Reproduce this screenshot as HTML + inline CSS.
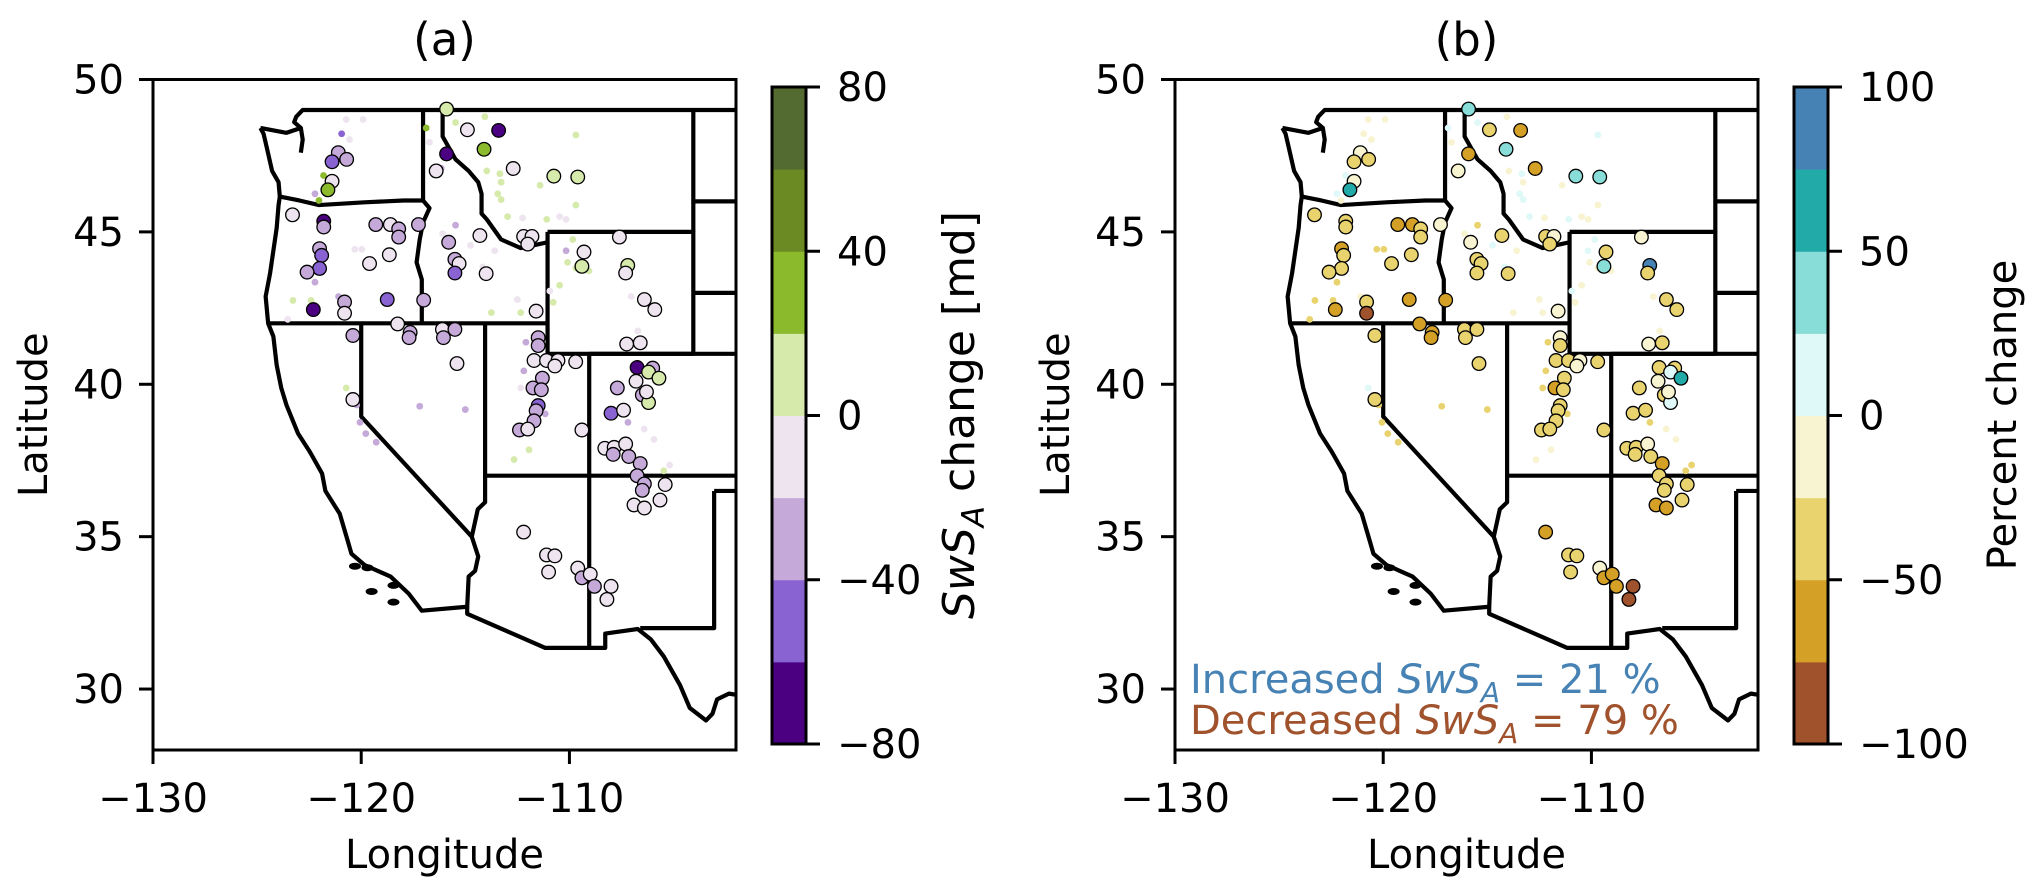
<!DOCTYPE html>
<html><head><meta charset="utf-8"><style>
html,body{margin:0;padding:0;background:#fff;}
svg{display:block;font-family:"DejaVu Sans","Liberation Sans",sans-serif;}
</style></head><body>
<svg id="fig" width="2044" height="894" viewBox="0 0 2044 894" xmlns="http://www.w3.org/2000/svg">
<defs>
<clipPath id="clipA"><rect x="153" y="79.5" width="583" height="670.5"/></clipPath>
<clipPath id="clipB"><rect x="1175" y="79.5" width="583" height="670.5"/></clipPath>
</defs>
</svg>
<script>
// ---------------- data ----------------
const bigLon = [-115.9,-114.9,-113.4,-114.1,-115.9,-116.4,-112.7,-110.75,-109.6,-121.1,-120.7,-121.4,-121.4,-121.6,-123.3,-121.8,-121.8,-119.3,-118.6,-118.2,-118.2,-117.25,-122.0,-121.9,-122.0,-122.6,-118.65,-119.6,-115.8,-115.5,-115.3,-115.5,-114.3,-114.0,-122.3,-120.8,-120.8,-118.75,-117.0,-118.25,-117.65,-117.7,-120.4,-116.1,-115.5,-116.05,-115.4,-120.4,-112.2,-111.8,-112.0,-111.6,-109.3,-109.4,-107.6,-107.2,-107.3,-106.4,-105.9,-111.5,-111.5,-111.7,-111.1,-110.55,-110.7,-109.7,-107.25,-106.6,-106.75,-106.0,-106.2,-105.7,-106.8,-106.5,-106.2,-106.3,-107.7,-108.0,-107.4,-111.3,-111.75,-111.35,-111.5,-111.6,-111.7,-112.4,-112.0,-109.4,-108.3,-107.85,-107.3,-107.9,-107.15,-106.6,-106.75,-106.4,-106.5,-105.4,-106.9,-106.4,-105.65,-112.2,-111.1,-110.7,-111.0,-109.6,-109.4,-109.0,-108.8,-108.0,-108.2];
const bigLat = [49.03,48.35,48.33,47.71,47.56,47.0,47.08,46.83,46.8,47.6,47.38,47.3,46.66,46.38,45.56,45.35,45.16,45.24,45.24,45.1,44.83,45.24,44.45,44.23,43.8,43.68,44.25,43.96,44.66,44.1,43.96,43.65,44.88,43.63,42.45,42.7,42.33,42.78,42.76,41.98,41.7,41.53,41.6,41.8,41.8,41.53,40.68,39.5,44.85,44.85,44.6,42.4,44.34,43.87,44.83,43.9,43.65,42.78,42.45,41.53,41.27,40.78,40.78,40.78,40.6,40.74,41.32,41.36,40.55,40.53,40.4,40.2,40.1,39.65,39.4,39.75,39.88,39.05,39.15,40.2,39.88,39.82,39.3,39.13,38.8,38.5,38.53,38.5,37.9,37.93,38.04,37.7,37.63,37.4,37.0,36.73,36.52,36.71,36.04,35.94,36.2,35.15,34.4,34.37,33.84,33.97,33.65,33.77,33.37,33.37,32.94];
const bigValA = [10,-10,-70,30,-70,-10,-10,10,10,-30,-30,-50,-10,30,-10,-70,-30,-30,-10,-30,-30,-30,-30,-50,-50,-30,-10,-10,-30,-30,-10,-50,-10,-10,-70,-30,-10,-50,-30,-10,-30,-30,-30,-10,-30,-30,-10,-10,-10,-10,-10,-10,-10,10,-10,10,-10,-10,-10,-30,-30,-10,-10,-10,-10,-10,-10,-10,-70,-30,10,10,-10,-30,10,-10,-30,-50,-10,-30,-30,-30,-50,-30,-30,-30,-10,-10,-10,-10,-10,-30,-30,-30,-30,-30,-30,-10,-10,-10,-10,-10,-10,-10,-10,-10,-30,-10,-30,-10,-10];
const bigValB = [30,-40,-70,30,-60,-10,-60,30,30,-10,-40,-40,-10,60,-40,-40,-40,-60,-60,-40,-40,-10,-60,-40,-40,-40,-40,-40,-10,-40,-40,-40,-40,-40,-60,-40,-85,-60,-60,-60,-60,-60,-40,-40,-40,-40,-40,-40,-40,-10,-40,-10,-40,30,-10,90,-40,-40,-40,-10,-40,-40,-40,-10,-10,-40,-10,-40,-40,-40,10,60,-10,-40,10,-10,-40,-40,-40,-40,-60,-40,-40,-40,-40,-40,-40,-40,-40,-40,-10,-40,-40,-60,-40,-40,-40,-40,-60,-60,-40,-60,-40,-40,-40,-10,-60,-60,-60,-85,-85];
const smallLon = [-120.72,-119.91,-120.94,-120.56,-121.81,-122.22,-122.03,-116.88,-116.72,-116.16,-115.47,-114.06,-113.97,-113.34,-113.28,-113.44,-113.28,-112.97,-112.25,-111.41,-111.09,-110.16,-109.84,-110.09,-109.69,-109.06,-110.47,-110.78,-110.94,-110.16,-109.69,-113.59,-114.16,-113.75,-112.34,-112.5,-119.97,-120.31,-122.22,-122.22,-121.09,-122.41,-123.28,-123.53,-120.72,-120.22,-120.06,-119.78,-119.28,-117.19,-115.0,-112.09,-112.19,-112.34,-111.94,-112.66,-111.16,-107.19,-106.41,-105.19,-105.47,-105.94,-106.72,-107.03,-109.69,-110.47,-115.47,-116.09,-114.75];
const smallLat = [48.69,48.69,48.22,48.03,46.85,46.25,46.03,48.41,47.94,47.09,48.59,48.78,47.0,46.91,46.63,46.25,46.06,45.5,45.46,46.53,45.41,45.41,44.75,44.0,43.81,43.72,43.25,42.69,43.06,44.38,48.18,44.38,43.85,42.35,42.35,42.78,44.43,44.43,43.81,43.35,42.88,42.75,42.75,42.13,39.88,39.32,38.75,38.38,38.1,39.28,39.17,41.38,40.44,39.88,37.85,37.53,39.03,38.75,38.53,37.35,37.16,38.19,41.75,42.88,45.88,45.5,45.22,44.94,44.56];
const smallValA = [-10,-10,-50,-10,30,-30,30,30,-10,-30,10,10,10,10,10,10,10,10,-10,10,10,-10,10,10,10,10,10,10,-10,-30,10,-10,-10,10,10,-10,-10,-10,-30,-30,-30,10,10,-10,10,-30,-30,-30,-30,-30,-30,-30,-30,-10,10,10,-30,-30,-10,-10,10,-10,-10,-10,10,-10,-30,-10,-10];
const smallValB = [-10,-10,-10,-10,10,10,-10,10,-10,10,10,-10,-10,10,-10,10,10,10,-10,-10,10,-10,10,-10,-10,-10,-10,-10,10,10,10,-10,10,-10,-10,-10,-40,-40,-40,-40,-10,-40,-40,-40,10,-40,-40,-40,-40,-40,-40,-40,-40,-40,-10,-10,-40,-40,-10,-40,-40,-10,-10,-10,-10,-10,-40,-10,10];
const cbTicksA = [-80,-40,0,40,80];
const cbTicksB = [-100,-50,0,50,100];
const colorsA = ['#4b0082','#8a63d2','#c5a9d8','#ede4ef','#d6eaab','#8cba2d','#6b8a23','#536a30'];
const colorsB = ['#a0522d','#d4a026','#e9d36e','#f8f3d0','#dff8f8','#88ddd8','#22aaa8','#4682b4'];
const xTicks = [-130,-120,-110];
const yTicks = [30,35,40,45,50];

// ---------------- map outlines (lon/lat) ----------------
const lines = [
 [[-124.84,48.41],[-124.69,48.22],[-124.53,47.75],[-124.28,47.0],[-123.97,46.63],[-123.91,46.16],[-123.97,45.88],[-124.06,45.13],[-124.22,44.38],[-124.38,43.63],[-124.59,42.88],[-124.47,42.0],[-124.22,41.57],[-124.06,40.63],[-123.84,39.88],[-123.59,39.32],[-123.03,38.38],[-122.5,37.82],[-122.34,37.63],[-121.88,37.07],[-121.72,36.5],[-121.03,35.75],[-120.63,34.82],[-120.47,34.44],[-119.84,34.07],[-118.59,33.69],[-117.72,33.13],[-117.09,32.57],[-114.91,32.7],[-114.91,32.47],[-111.16,31.35],[-108.28,31.35],[-108.28,31.82],[-106.72,31.97],[-106.09,31.63],[-105.47,31.07],[-104.69,30.13],[-104.22,29.38],[-103.44,28.97],[-103.13,29.19],[-102.91,29.66],[-102.34,29.85],[-101.9,29.8]],
 [[-124.84,48.41],[-123.6,48.25],[-122.9,48.41],[-123.22,48.6],[-123.12,48.78],[-122.81,49.0],[-101.9,49.0]],
 [[-122.9,48.41],[-122.81,48.03],[-122.9,47.6]],
 [[-123.91,46.16],[-122.97,46.03],[-122.03,45.88],[-119.84,45.97],[-117.97,46.03],[-117.03,46.03],[-117.03,49]],
 [[-117.03,46.03],[-116.72,45.78],[-117.03,45.31],[-117.19,44.75],[-117.34,44.0],[-117.09,43.44],[-117.09,42.0]],
 [[-124.47,42.0],[-111.05,42.0]],
 [[-116.09,49],[-116.09,48.13],[-115.47,47.38],[-114.84,47.0],[-114.38,46.63],[-114.22,46.25],[-114.22,45.6],[-113.97,45.41],[-113.28,44.75],[-112.34,44.47],[-111.72,44.56],[-111.05,44.66]],
 [[-111.05,45.0],[-104.05,45.0],[-104.05,41.0],[-111.05,41.0],[-111.05,45.0]],
 [[-104.05,49],[-104.05,45]],
 [[-104.05,46],[-101.9,46]],[[-104.05,43],[-101.9,43]],
 [[-109.05,41],[-101.9,41]],
 [[-114.05,37],[-101.9,37]],
 [[-109.05,41],[-109.05,31.35]],
 [[-103.05,36.5],[-103.05,32.0],[-106.6,32.0]],
 [[-103.05,36.5],[-101.9,36.5]],
 [[-120.0,42],[-120.0,38.94],[-114.69,35.0]],
 [[-114.05,42],[-114.05,36.13],[-114.4,35.9],[-114.69,35.0],[-114.38,34.35],[-114.53,33.88],[-114.84,33.69],[-114.91,32.7]]
];
const islands = [[-120.3,34.03],[-119.7,33.98],[-119.5,33.2],[-118.45,33.4],[-118.45,32.85]];

const NS='http://www.w3.org/2000/svg';
const svg=document.getElementById('fig');
function mk(tag,attrs,parent){const e=document.createElementNS(NS,tag);for(const k in attrs)e.setAttribute(k,attrs[k]);(parent||svg).appendChild(e);return e;}

function panel(P){
  const X0=P.x0, Y0=79.5, W=583, H=670.5;
  const sx=lon=>X0+(lon+130)/28*W;
  const sy=lat=>Y0+(50-lat)/22*H;
  const g=mk('g',{});
  
  
  const mg=mk('g',{'clip-path':'url(#'+P.clip+')'},g);
  
  
  lines.forEach(l=>{
    const p=mk('polyline',{points:l.map(q=>sx(q[0])+','+sy(q[1])).join(' '),fill:'none',stroke:'#000','stroke-width':4.2,'stroke-linejoin':'round'},mg);
    
    
  });
  islands.forEach(q=>{
    const c=mk('ellipse',{cx:sx(q[0]),cy:sy(q[1]),rx:6,ry:3.5,fill:'#000'},mg);
    
    
  });
  const col=v=>{let i=Math.floor((v-P.vmin)/((P.vmax-P.vmin)/8));i=Math.max(0,Math.min(7,i));return P.colors[i];};
  smallLon.forEach((lon,i)=>{
    const c=mk('circle',{cx:sx(lon),cy:sy(smallLat[i]),r:3.4,fill:col(P.small[i])},mg);
    
    
  });
  bigLon.forEach((lon,i)=>{
    const c=mk('circle',{cx:sx(lon),cy:sy(bigLat[i]),r:6.8,fill:col(P.big[i]),stroke:'#000','stroke-width':1.3},mg);
    
    
  });
  const fr=mk('rect',{x:X0,y:Y0,width:W,height:H,fill:'none',stroke:'#000','stroke-width':3},g);
  
  
  xTicks.forEach(t=>{
    mk('line',{x1:sx(t),x2:sx(t),y1:Y0+H,y2:Y0+H+14,stroke:'#000','stroke-width':3},g);
    const tx=mk('text',{x:sx(t),y:812,'font-size':40,'text-anchor':'middle'},g);
    tx.textContent=(t<0?'\u2212':'')+Math.abs(t);
    
    
  });
  yTicks.forEach(t=>{
    mk('line',{x1:X0-14,x2:X0,y1:sy(t),y2:sy(t),stroke:'#000','stroke-width':3},g);
    const tx=mk('text',{x:X0-29,y:sy(t)+14,'font-size':40,'text-anchor':'end'},g);
    tx.textContent=t;
    
    
  });
  const ti=mk('text',{x:X0+W/2,y:55,'font-size':45,'text-anchor':'middle'},g);
  ti.textContent=P.title;
  
  
  const xl=mk('text',{x:X0+W/2,y:868,'font-size':40,'text-anchor':'middle'},g);
  xl.textContent='Longitude';
  
  
  const yl=mk('text',{x:0,y:0,'font-size':40,'text-anchor':'middle',transform:'translate('+(X0-106)+','+(Y0+H/2)+') rotate(-90)'},g);
  yl.textContent='Latitude';
  
  
  // colorbar
  const cx=X0+619, cw=34, ct=87, cb=744, ch=(cb-ct)/8;
  const cg=mk('g',{},g);
  
  
  P.colors.forEach((c,i)=>{
    const r=mk('rect',{x:cx,y:cb-(i+1)*ch,width:cw,height:ch+0.5,fill:c},cg);
    
    
  });
  mk('rect',{x:cx,y:ct,width:cw,height:cb-ct,fill:'none',stroke:'#000','stroke-width':3},cg);
  P.ticks.forEach(t=>{
    const y=cb-(t-P.vmin)/(P.vmax-P.vmin)*(cb-ct);
    mk('line',{x1:cx+cw,x2:cx+cw+14,y1:y,y2:y,stroke:'#000','stroke-width':3},cg);
    const tx=mk('text',{x:cx+cw+31,y:y+14,'font-size':40},cg);
    tx.textContent=(t<0?'\u2212':'')+Math.abs(t);
    
    
  });
  const cl=mk('text',{x:0,y:0,'font-size':P.cbFont,'text-anchor':'middle',transform:'translate('+(P.cbLabelX)+',415) rotate(-90)'},cg);
  cl.innerHTML=P.cbLabel;
  
  
  return g;
}
panel({name:'panel-a',x0:153,clip:'clipA',title:'(a)',vmin:-80,vmax:80,colors:colorsA,ticks:cbTicksA,big:bigValA,small:smallValA,cbLabelX:974,cbFont:44,
  cbLabel:'<tspan font-style="italic">SwS</tspan><tspan font-style="italic" font-size="31" dy="10">A</tspan><tspan dy="-10"> change [md]</tspan>'});
panel({name:'panel-b',x0:1175,clip:'clipB',title:'(b)',vmin:-100,vmax:100,colors:colorsB,ticks:cbTicksB,big:bigValB,small:smallValB,cbLabelX:2016,cbFont:40,
  cbLabel:'Percent change'});
const a1=mk('text',{x:1190,y:693,'font-size':40,fill:'#4682b4'});
a1.innerHTML='Increased <tspan font-style="italic">SwS</tspan><tspan font-style="italic" font-size="28" dy="9">A</tspan><tspan dy="-9"> = 21 %</tspan>';


const a2=mk('text',{x:1190,y:734,'font-size':40,fill:'#a0522d'});
a2.innerHTML='Decreased <tspan font-style="italic">SwS</tspan><tspan font-style="italic" font-size="28" dy="9">A</tspan><tspan dy="-9"> = 79 %</tspan>';


</script>
</body></html>
